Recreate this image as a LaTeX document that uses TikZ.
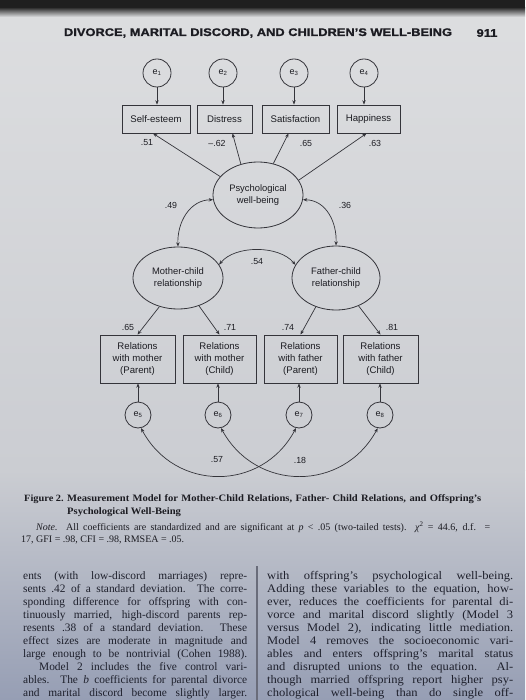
\documentclass[tikz,border=0pt]{standalone}
\usepackage{fontspec}
\setmainfont{Liberation Serif}
\newfontfamily\dsans{Liberation Sans}
\newfontfamily\hdrfont{Liberation Sans Bold}[FakeStretch=1.17,FakeBold=1.2]
\newfontfamily\capfont{Liberation Serif}[FakeStretch=1.08]
\newfontfamily\rbody{Liberation Serif}[FakeStretch=1.08]
\usetikzlibrary{shapes.geometric,arrows.meta,calc}
\definecolor{ink}{RGB}{28,28,34}
\definecolor{bodyink}{RGB}{30,32,44}
\definecolor{ln}{RGB}{52,52,58}
\definecolor{pgA}{RGB}{221,222,224}
\definecolor{pgB}{RGB}{203,205,210}
\definecolor{pgC}{RGB}{150,158,180}
\definecolor{rulec}{RGB}{105,108,122}
\newcommand\jline[2]{\hbox to #1{\spaceskip=0.26em plus 3em minus 0.14em\relax #2}}
\begin{document}
\begin{tikzpicture}[x=1pt,y=-1pt,
  obs/.style={draw=ln, line width=0.8pt, rectangle, inner sep=0pt, text=ink, align=center,
     font=\dsans\fontsize{9.6}{12.3}\selectfont},
  err/.style={draw=ln, line width=0.8pt, circle, inner sep=0pt, minimum size=28pt, text=ink,
     font=\dsans\fontsize{9}{10}\selectfont},
  lat/.style={draw=ln, line width=0.8pt, ellipse, inner sep=0pt, text=ink, align=center,
     font=\dsans\fontsize{9.4}{12.5}\selectfont},
  arr/.style={draw=ln, line width=0.7pt, -{Stealth[length=4.3pt,width=3.4pt]}},
  darr/.style={draw=ln, line width=0.7pt, {Stealth[length=4.3pt,width=3.4pt]}-{Stealth[length=4.3pt,width=3.4pt]}},
  coef/.style={text=ink, inner sep=0pt, font=\dsans\fontsize{8.8}{9}\selectfont},
  capt/.style={anchor=base west, inner sep=0pt, text=ink},
]
\useasboundingbox (0,0) rectangle (525,700);
% background (photographed page)
\shade[top color=pgA, bottom color=pgB] (0,0) rectangle (525,470);
\shade[top color=pgB, bottom color=pgC] (0,470) rectangle (525,700);
\fill[black!88] (0,0) rectangle (525,8);
\shade[top color=black!80, bottom color=pgA] (0,8) rectangle (525,17);

% header
\node[text=ink, inner sep=0pt, font=\hdrfont\fontsize{11}{12}\selectfont] (hdr) at (258,33) {DIVORCE, MARITAL DISCORD, AND CHILDREN’S WELL-BEING};
\node[text=ink, inner sep=0pt, font=\hdrfont\fontsize{11}{12}\selectfont] (pg) at (487,33) {911};

% error terms top
\node[err] (e1) at (157,73) {e\textsubscript{1}};
\node[err] (e2) at (223,73) {e\textsubscript{2}};
\node[err] (e3) at (294,73) {e\textsubscript{3}};
\node[err] (e4) at (364,73) {e\textsubscript{4}};

% indicators top
\node[obs, minimum width=68pt, minimum height=28pt] (se) at (156,119) {Self-esteem};
\node[obs, minimum width=55pt, minimum height=28pt] (di) at (224.5,119) {Distress};
\node[obs, minimum width=67pt, minimum height=28pt] (sa) at (295.5,119) {Satisfaction};
\node[obs, minimum width=63pt, minimum height=28pt] (ha) at (368.5,119) {Happiness};

\draw[arr] (e1) -- (e1 |- se.north);
\draw[arr] (e2) -- (e2 |- di.north);
\draw[arr] (e3) -- (e3 |- sa.north);
\draw[arr] (e4) -- (e4 |- ha.north);

% latent variables
\node[lat, minimum width=90pt, minimum height=66pt] (psy) at (258,195) {Psychological\\well-being};
\node[lat, minimum width=90pt, minimum height=62pt, font=\dsans\fontsize{9.4}{12}\selectfont] (mo) at (178,278) {Mother-child\\relationship};
\node[lat, minimum width=88pt, minimum height=64pt, font=\dsans\fontsize{9.4}{12}\selectfont] (fa) at (336,278) {Father-child\\relationship};

\draw[arr] (psy.154) -- ([xshift=-3pt]se.south);
\draw[arr] (psy.119) -- ([xshift=8pt]di.south);
\draw[arr] (psy.64) -- ([xshift=-7pt]sa.south);
\draw[arr] (psy.20) -- ([xshift=-2pt]ha.south);

\node[coef] (c1) at (147,143) {.51};
\node[coef] (c2) at (217,143) {–.62};
\node[coef] (c3) at (306,143) {.65};
\node[coef] (c4) at (375,143) {.63};

% correlations among latents
\draw[darr] (psy.186) .. controls (190,200) and (177,222) .. (mo.north);
\draw[darr] (psy.-6) .. controls (326,200) and (337,222) .. (fa.north);
\draw[darr] (mo.18) .. controls (235,245) and (279,245) .. (fa.162);
\node[coef] (c49) at (171,205) {.49};
\node[coef] (c36) at (345,205) {.36};
\node[coef] (c54) at (257,262) {.54};

% indicators bottom
\node[obs, minimum width=75pt, minimum height=48pt] (r1) at (137.5,359) {Relations\\with mother\\(Parent)};
\node[obs, minimum width=73pt, minimum height=48pt] (r2) at (219.5,359) {Relations\\with mother\\(Child)};
\node[obs, minimum width=73pt, minimum height=48pt] (r3) at (300.5,359) {Relations\\with father\\(Parent)};
\node[obs, minimum width=75pt, minimum height=48pt] (r4) at (380.5,359) {Relations\\with father\\(Child)};

\draw[arr] (mo.-123) -- (r1.north);
\draw[arr] (mo.-53) -- (r2.north);
\draw[arr] (fa.-125) -- (r3.north);
\draw[arr] (fa.-51) -- (r4.north);
\node[coef] (c65) at (128,327) {.65};
\node[coef] (c71) at (230,327) {.71};
\node[coef] (c74) at (288,327) {.74};
\node[coef] (c81) at (392,327) {.81};

% error terms bottom
\node[err, minimum size=26pt] (e5) at (138,415) {e\textsubscript{5}};
\node[err, minimum size=26pt] (e6) at (218,415) {e\textsubscript{6}};
\node[err, minimum size=26pt] (e7) at (299,415) {e\textsubscript{7}};
\node[err, minimum size=26pt] (e8) at (380,415) {e\textsubscript{8}};

\draw[arr] (e5) -- (e5 |- r1.south);
\draw[arr] (e6) -- (e6 |- r2.south);
\draw[arr] (e7) -- (e7 |- r3.south);
\draw[arr] (e8) -- (e8 |- r4.south);

\draw[darr] (e5.-77) .. controls (175,492) and (262,492) .. (e7.-103);
\draw[darr] (e6.-77) .. controls (256,492) and (343,492) .. (e8.-100);
\node[coef] (c57) at (217,460) {.57};
\node[coef] (c18) at (300,460) {.18};

% caption
\node[capt, font=\capfont\bfseries\fontsize{9.6}{11}\selectfont] (fig) at (24,501) {Figure 2.};
\node[capt, font=\capfont\bfseries\fontsize{9.8}{11}\selectfont] (cap1) at (67,501) {\jline{414pt}{Measurement Model for Mother-Child Relations, Father- Child Relations, and Offspring’s}};
\node[capt, font=\capfont\bfseries\fontsize{9.8}{11}\selectfont] (cap2) at (67,514) {Psychological Well-Being};
\node[capt, font=\fontsize{10}{11}\selectfont] (note1) at (36,530) {\jline{454pt}{\textit{Note.} All coefficients are standardized and are significant at \textit{p} < .05 (two-tailed tests). \textit{χ}\textsuperscript{2} = 44.6, d.f. =}};
\node[capt, font=\fontsize{10}{11}\selectfont] (note2) at (21,542) {17, GFI = .98, CFI = .98, RMSEA = .05.};

% body text
\draw[rulec, line width=1.3pt] (257,566) -- (257,700);
\node[anchor=base west, inner sep=0pt, text=bodyink, font=\fontsize{11.4}{13.1}\selectfont] (lcol) at (23,579) {\vtop{\hsize=224pt \baselineskip=13.1pt \lineskiplimit=-5pt
\jline{224pt}{ents (with low-discord marriages) repre-}
\jline{224pt}{sents .42 of a standard deviation. The corre-}
\jline{224pt}{sponding difference for offspring with con-}
\jline{224pt}{tinuously married, high-discord parents rep-}
\jline{224pt}{resents .38 of a standard deviation. These}
\jline{224pt}{effect sizes are moderate in magnitude and}
\jline{224pt}{large enough to be nontrivial (Cohen 1988).}
\jline{224pt}{\hspace*{1.4em}Model 2 includes the five control vari-}
\jline{224pt}{ables. The \textit{b} coefficients for parental divorce}
\jline{224pt}{and marital discord become slightly larger.}}};
\node[anchor=base west, inner sep=0pt, text=bodyink, font=\rbody\fontsize{11.6}{13.1}\selectfont] (rcol) at (267,579) {\vtop{\hsize=246pt \baselineskip=13.1pt \lineskiplimit=-5pt
\jline{246pt}{with offspring’s psychological well-being.}
\jline{246pt}{Adding these variables to the equation, how-}
\jline{246pt}{ever, reduces the coefficients for parental di-}
\jline{246pt}{vorce and marital discord slightly (Model 3}
\jline{246pt}{versus Model 2), indicating little mediation.}
\jline{246pt}{Model 4 removes the socioeconomic vari-}
\jline{246pt}{ables and enters offspring’s marital status}
\jline{246pt}{and disrupted unions to the equation. Al-}
\jline{246pt}{though married offspring report higher psy-}
\jline{246pt}{chological well-being than do single off-}}};
\end{tikzpicture}
\end{document}
